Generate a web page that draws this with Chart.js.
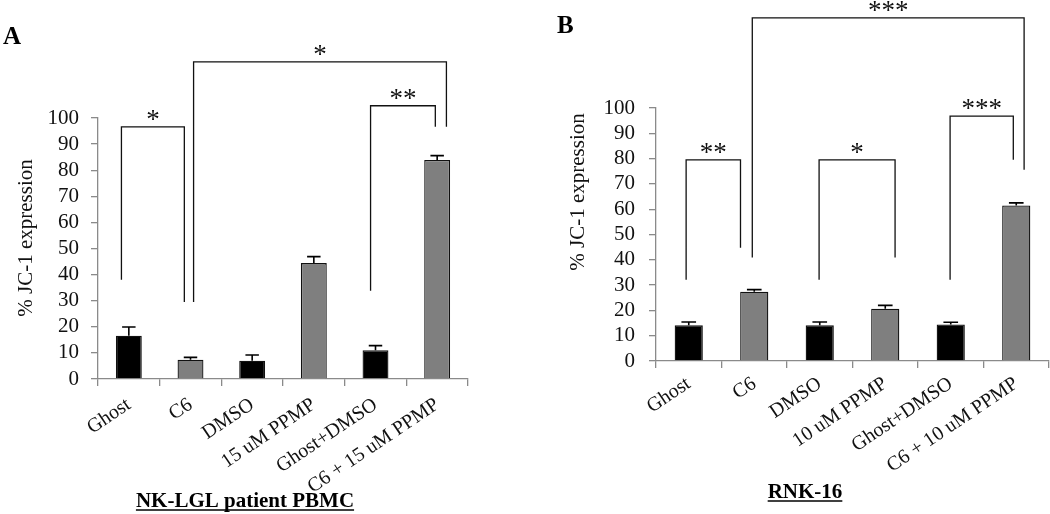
<!DOCTYPE html>
<html><head><meta charset="utf-8">
<script src="https://cdn.jsdelivr.net/npm/chart.js"></script>
<style>
html,body{margin:0;padding:0;background:#fff;overflow:hidden}
#wrap{position:relative;width:1050px;height:514px;background:#fff}
canvas{position:absolute;top:0}
#cA{left:0}#cB{left:525px}
</style></head>
<body><div id="wrap"><canvas id="cA" width="525" height="514"></canvas><canvas id="cB" width="525" height="514"></canvas></div>
<script>
// ---- data ----
const categoriesA = ['Ghost', 'C6', 'DMSO', '15 uM PPMP', 'Ghost+DMSO', 'C6 + 15 uM PPMP'];
const valuesA = [16.6, 7.4, 7.0, 44.4, 11.0, 83.9];
const errorsA = [3.3, 0.9, 2.2, 2.5, 1.8, 1.7];

const categoriesB = ['Ghost', 'C6', 'DMSO', '10 uM PPMP', 'Ghost+DMSO', 'C6 + 10 uM PPMP'];
const valuesB = [14.1, 27.4, 14.1, 20.7, 14.4, 61.5];
const errorsB = [1.3, 0.8, 1.3, 1.3, 0.9, 1.0];

const yMin = 0, yMax = 100, yStep = 10;

// significance brackets: [left category, right category, level, left leg end, right leg end, label]
const bracketsA = [
  [-0.12, 0.90, 96.6, 38.0, 29.5, '*'],
  [1.05, 5.15, 121.5, 29.5, 96.6, '*'],
  [3.92, 4.97, 104.7, 33.8, 96.6, '**']
];
const bracketsB = [
  [-0.04, 0.79, 79.5, 32.1, 44.8, '**'],
  [1.99, 3.15, 79.5, 32.1, 40.9, '*'],
  [3.99, 4.955, 96.8, 32.1, 79.5, '***'],
  [0.97, 5.12, 135.6, 40.9, 75.6, '***']
];

const panelA = { letter: 'A', yTitle: '% JC-1 expression', subtitle: 'NK-LGL patient PBMC' };
const panelB = { letter: 'B', yTitle: '% JC-1 expression', subtitle: 'RNK-16' };

// ---- styles ----
const SERIF = '"Liberation Serif", "Times New Roman", serif';
const fills = ['#000000', '#7f7f7f', '#000000', '#7f7f7f', '#000000', '#7f7f7f'];
const AXIS = '#8a8a8a';

const extras = {
  id: 'extras',
  afterDraw(chart, args, o) {
    const ctx = chart.ctx, xs = chart.scales.x, ys = chart.scales.y;
    const meta = chart.getDatasetMeta(0);
    ctx.save();
    // error bars (upper)
    ctx.strokeStyle = '#000'; ctx.lineWidth = 1.6;
    meta.data.forEach((bar, i) => {
      const v = o.values[i], e = o.errors[i];
      const yt = ys.getPixelForValue(v), ye = ys.getPixelForValue(v + e);
      const half = bar.width * 0.26;
      ctx.beginPath();
      ctx.moveTo(bar.x, yt); ctx.lineTo(bar.x, ye);
      ctx.moveTo(bar.x - half, ye); ctx.lineTo(bar.x + half, ye);
      ctx.stroke();
    });
    // brackets
    const x0 = xs.getPixelForValue(0), step = xs.getPixelForValue(1) - x0;
    const px = c => x0 + c * step;
    ctx.lineWidth = 1.3; ctx.strokeStyle = '#111';
    ctx.fillStyle = '#111';
    ctx.font = '27px ' + SERIF; ctx.textAlign = 'center'; ctx.textBaseline = 'alphabetic';
    o.brackets.forEach(b => {
      const xl = px(b[0]), xr = px(b[1]);
      const yl = ys.getPixelForValue(b[2]);
      ctx.beginPath();
      ctx.moveTo(xl, ys.getPixelForValue(b[3]));
      ctx.lineTo(xl, yl); ctx.lineTo(xr, yl);
      ctx.lineTo(xr, ys.getPixelForValue(b[4]));
      ctx.stroke();
      ctx.fillText(b[5], (xl + xr) / 2, yl + 1);
    });
    // panel letter
    ctx.fillStyle = '#000';
    ctx.textAlign = 'left';
    ctx.font = 'bold 25px ' + SERIF;
    ctx.fillText(o.panel.letter, o.letterX, o.letterY);
    // y title
    ctx.save();
    ctx.translate(o.yTitleX, o.yTitleY);
    ctx.rotate(-Math.PI / 2);
    ctx.textAlign = 'center'; ctx.textBaseline = 'middle';
    ctx.font = '21px ' + SERIF;
    ctx.fillStyle = '#111';
    ctx.fillText(o.panel.yTitle, 0, 0);
    ctx.restore();
    // subtitle underlined
    ctx.font = 'bold 21px ' + SERIF;
    ctx.textAlign = 'center'; ctx.textBaseline = 'alphabetic';
    ctx.fillText(o.panel.subtitle, o.subX, o.subY);
    const w = ctx.measureText(o.panel.subtitle).width;
    ctx.lineWidth = 1.6; ctx.strokeStyle = '#000';
    ctx.beginPath(); ctx.moveTo(o.subX - w / 2, o.subY + 3); ctx.lineTo(o.subX + w / 2, o.subY + 3); ctx.stroke();
    ctx.restore();
  }
};

function makeChart(id, cats, vals, errs, brackets, panel, L) {
  return new Chart(document.getElementById(id), {
    type: 'bar',
    data: {
      labels: cats,
      datasets: [{
        data: vals,
        backgroundColor: fills,
        borderColor: '#111',
        borderWidth: 1.3,
        categoryPercentage: 1,
        barPercentage: L.barPct
      }]
    },
    options: {
      responsive: false,
      animation: false,
      devicePixelRatio: 1,
      layout: { padding: { top: L.top, left: 0, right: L.right, bottom: 0 } },
      plugins: {
        legend: { display: false }, tooltip: { enabled: false },
        extras: Object.assign({ values: vals, errors: errs, brackets: brackets, panel: panel }, L.text)
      },
      scales: {
        x: {
          grid: { display: true, offset: true, drawOnChartArea: false, drawTicks: true, tickLength: 7, color: AXIS, lineWidth: 1.3 },
          border: { display: true, color: AXIS, width: 1.3 },
          ticks: { autoSkip: false, minRotation: 34, maxRotation: 34, padding: L.xpad, color: '#111', font: { family: SERIF, size: 20 } },
          afterFit: s => { s.height = L.xh; }
        },
        y: {
          min: yMin, max: yMax,
          grid: { display: true, drawOnChartArea: false, drawTicks: true, tickLength: 7, color: AXIS, lineWidth: 1.3 },
          border: { display: true, color: AXIS, width: 1.3 },
          ticks: { stepSize: yStep, autoSkip: false, padding: L.ypad, color: '#111', font: { family: SERIF, size: 21 } },
          afterFit: s => { s.width = L.yw; }
        }
      }
    },
    plugins: [extras]
  });
}

makeChart('cA', categoriesA, valuesA, errorsA, bracketsA, panelA, {
  barPct: 0.42, top: 118, right: 57, xh: 135, yw: 98, ypad: 12, xpad: 7,
  text: { letterX: 3, letterY: 44, yTitleX: 26, yTitleY: 238, subX: 245, subY: 507 }
});
makeChart('cB', categoriesB, valuesB, errorsB, bracketsB, panelB, {
  barPct: 0.43, top: 108, right: 1, xh: 153, yw: 131, ypad: 14, xpad: 4,
  text: { letterX: 32, letterY: 33, yTitleX: 53, yTitleY: 192, subX: 280, subY: 498 }
});
</script>
</body></html>
